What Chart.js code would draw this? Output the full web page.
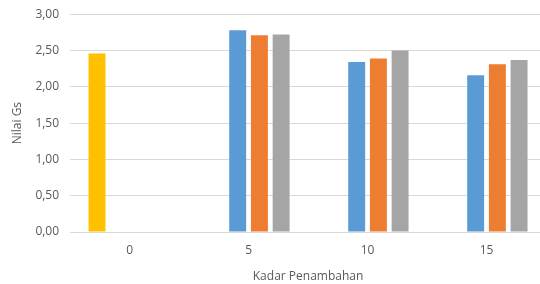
<!DOCTYPE html>
<html>
<head>
<meta charset="utf-8">
<script src="https://cdn.jsdelivr.net/npm/chart.js@4"></script>
<style>
  html, body { margin: 0; padding: 0; background: #fff; overflow: hidden; }
  #wrap { width: 546px; height: 288px; margin-top: -4px; }
</style>
</head>
<body>
<div id="wrap"><canvas id="gsChart"></canvas></div>
<script>
const categories = ['0', '5', '10', '15'];
const seriesYellow = [2.46, null, null, null];
const seriesBlue = [null, 2.78, 2.34, 2.16];
const seriesOrange = [null, 2.71, 2.39, 2.31];
const seriesGray = [null, 2.72, 2.50, 2.37];
const yTicks = [0, 0.5, 1, 1.5, 2, 2.5, 3];

const ctx = document.getElementById('gsChart').getContext('2d');
const fontFamily = "'Open Sans', 'Liberation Sans', sans-serif";
const textColor = '#595959';

const makeSet = (data, color) => ({
    data: data,
    backgroundColor: color,
    barPercentage: 0.78,
    categoryPercentage: 0.73
});

new Chart(ctx, {
    type: 'bar',
    data: {
        labels: categories,
        datasets: [
            makeSet(seriesYellow, '#FFC000'),
            makeSet(seriesBlue, '#5B9BD5'),
            makeSet(seriesOrange, '#ED7D31'),
            makeSet(seriesGray, '#A5A5A5')
        ]
    },
    options: {
        responsive: true,
        maintainAspectRatio: false,
        animation: false,
        layout: { padding: { top: 2, left: 10, right: 0, bottom: 0 } },
        plugins: {
            legend: { display: false },
            tooltip: { enabled: false }
        },
        scales: {
            x: {
                afterFit: (axis) => { axis.height = 52; },
                grid: { display: false, drawTicks: false },
                border: { color: '#d9d9d9' },
                ticks: { color: textColor, font: { family: fontFamily, size: 12 }, padding: 11 },
                title: {
                    display: true,
                    text: 'Kadar Penambahan',
                    color: textColor,
                    font: { family: fontFamily, size: 12 },
                    padding: { top: 0, bottom: 0 }
                }
            },
            y: {
                min: 0,
                max: 3,
                afterBuildTicks: (axis) => { axis.ticks = yTicks.map(v => ({ value: v })); },
                grid: { color: '#d9d9d9', drawTicks: false },
                border: { display: false },
                ticks: {
                    color: textColor,
                    font: { family: fontFamily, size: 12 },
                    padding: 11,
                    callback: (v) => v.toFixed(2).replace('.', ',')
                },
                title: {
                    display: true,
                    text: 'Nilai Gs',
                    color: textColor,
                    font: { family: fontFamily, size: 12 },
                    padding: { top: 0, bottom: 0 }
                }
            }
        }
    }
});
</script>
</body>
</html>
